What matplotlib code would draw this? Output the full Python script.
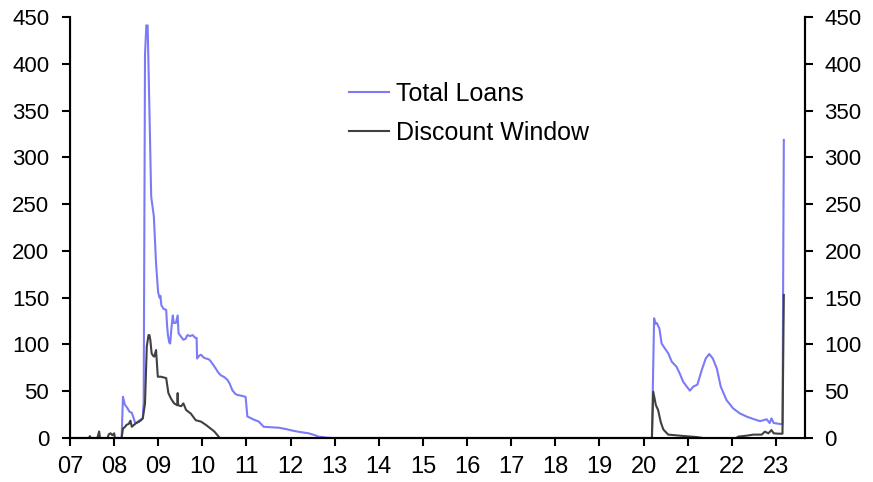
import numpy as np
import matplotlib.pyplot as plt

# Valores (año decimal, miles de millones)
total_x = [2007.00, 2008.17, 2008.20, 2008.24, 2008.30, 2008.35, 2008.40, 2008.43, 2008.47,
           2008.50, 2008.55, 2008.61, 2008.65, 2008.67, 2008.70, 2008.73, 2008.76, 2008.80,
           2008.84, 2008.90, 2008.95, 2008.99, 2009.00, 2009.03, 2009.05, 2009.07, 2009.12,
           2009.18, 2009.20, 2009.22, 2009.25, 2009.27, 2009.30, 2009.33, 2009.35, 2009.40,
           2009.44, 2009.46, 2009.52, 2009.57, 2009.62, 2009.66, 2009.72, 2009.78, 2009.84,
           2009.87, 2009.88, 2009.93, 2009.97, 2010.03, 2010.08, 2010.15, 2010.19, 2010.25,
           2010.30, 2010.36, 2010.42, 2010.50, 2010.57, 2010.62, 2010.68, 2010.75, 2010.80,
           2010.90, 2010.98, 2011.02, 2011.15, 2011.28, 2011.39, 2011.55, 2011.73, 2011.90,
           2012.03, 2012.20, 2012.41, 2012.55, 2012.63, 2012.80, 2012.93, 2020.19, 2020.24,
           2020.27, 2020.30, 2020.36, 2020.41, 2020.48, 2020.56, 2020.64, 2020.75, 2020.82,
           2020.90, 2020.98, 2021.05, 2021.13, 2021.22, 2021.32, 2021.41, 2021.49, 2021.57,
           2021.66, 2021.75, 2021.88, 2022.03, 2022.18, 2022.34, 2022.49, 2022.64, 2022.79,
           2022.86, 2022.90, 2022.95, 2023.05, 2023.15, 2023.18]
total_y = [0, 0, 44, 36, 32, 28, 27, 23, 17,
           16, 18, 20, 21, 40, 410, 441, 441, 351,
           258, 237, 187, 160, 155, 150, 152, 142, 138,
           137, 120, 110, 102, 101, 118, 131, 123, 123,
           131, 112, 108, 105, 106, 110, 109, 110, 107,
           107, 85, 88, 89, 86, 85, 84, 82, 78,
           74.5, 70, 67, 65, 62, 58, 51, 47, 46,
           45, 44, 23, 20, 17.5, 12, 11.5, 11, 9.5,
           8, 6.5, 5, 3, 1.5, 0.5, 0, 0, 128,
           122, 123, 117, 101, 96, 90.5, 81.6, 76, 69,
           60, 55, 50.6, 55, 57, 72.7, 85, 89.8, 85,
           74.5, 55, 40.6, 31.7, 26.4, 22.8, 20.3, 18, 20,
           16, 21, 16, 15.3, 14.6, 318.6]

dw_x = [2007.00, 2007.43, 2007.45, 2007.47, 2007.62, 2007.66, 2007.68, 2007.85, 2007.88,
        2007.92, 2007.96, 2008.00, 2008.02, 2008.17, 2008.20, 2008.25, 2008.28, 2008.33,
        2008.37, 2008.40, 2008.45, 2008.50, 2008.55, 2008.61, 2008.65, 2008.70, 2008.74,
        2008.78, 2008.80, 2008.82, 2008.85, 2008.88, 2008.91, 2008.95, 2008.99, 2009.06,
        2009.18, 2009.23, 2009.29, 2009.36, 2009.43, 2009.44, 2009.45, 2009.52, 2009.57,
        2009.63, 2009.74, 2009.85, 2009.97, 2010.08, 2010.19, 2010.27, 2010.36, 2010.39,
        2020.19, 2020.22, 2020.28, 2020.33, 2020.39, 2020.45, 2020.56, 2020.82, 2021.20,
        2021.35, 2022.10, 2022.15, 2022.34, 2022.49, 2022.68, 2022.75, 2022.83, 2022.90,
        2022.95, 2023.05, 2023.15, 2023.18]
dw_y = [0, 0, 2, 0, 0, 7, 0, 0, 4,
        5, 3, 5, 0, 0, 10, 12, 14, 15,
        18.5, 12, 14, 16, 17, 19, 21, 37, 98,
        110, 110, 105, 90.5, 88, 87, 94, 65.5, 65.5,
        64, 48, 42, 37, 35, 48, 35, 34, 37,
        30, 26, 19, 17.5, 14, 10, 7, 2, 0,
        0, 49.5, 35, 30, 17, 9, 3.6, 2.5, 1,
        0, 0, 1.5, 2.5, 3.6, 3.6, 6.8, 5, 8.5,
        5, 4.6, 4.6, 152.9]

years = np.arange(2007, 2024)
year_labels = [f"{y % 100:02d}" for y in years]
y_ticks = np.arange(0, 451, 50)

plt.rcParams['font.family'] = ['Liberation Sans', 'DejaVu Sans']

fig = plt.figure(figsize=(8.73, 4.82), dpi=100)
ax = fig.add_axes([0.0802, 0.0913, 0.8419, 0.8734])

ax.plot(total_x, total_y, color='#7B7BF8', lw=1.5, label='Total Loans')
ax.plot(dw_x, dw_y, color='#404040', lw=1.5, label='Discount Window')

ax.set_xlim(2007, 2023.66)
ax.set_ylim(0, 450)
ax.set_xticks(years)
ax.set_xticklabels(year_labels)
ax.set_yticks(y_ticks)

for s in ['left', 'right', 'bottom']:
    ax.spines[s].set_linewidth(1.5)
ax.spines['top'].set_visible(False)
ax.tick_params(axis='x', length=6, width=1.5, labelsize=17, pad=7)
ax.tick_params(axis='y', length=6, width=1.5, labelsize=16, pad=9)

ax2 = ax.twinx()
ax2.set_ylim(0, 450)
ax2.set_yticks(y_ticks)
ax2.spines['top'].set_visible(False)
ax2.spines['right'].set_linewidth(1.5)
ax2.tick_params(axis='y', length=6, width=1.5, labelsize=16, pad=8)

leg = ax.legend(loc='upper left', bbox_to_anchor=(0.388, 0.851), bbox_transform=fig.transFigure,
                frameon=False, fontsize=18, handlelength=1.6, handletextpad=0.28,
                labelspacing=0.6, borderaxespad=0)

fig.savefig('out.png', dpi=100)
